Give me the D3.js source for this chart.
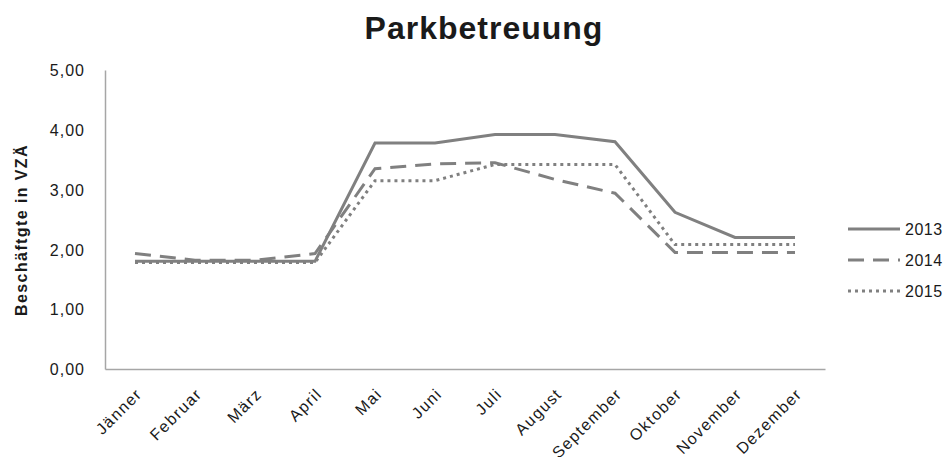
<!DOCTYPE html>
<html>
<head>
<meta charset="utf-8">
<script src="https://cdn.jsdelivr.net/npm/d3@7"></script>
<style>
  body { margin: 0; background: #fff; }
  text { font-family: "Liberation Sans", Arial, sans-serif; fill: #1a1a1a; }
</style>
</head>
<body>
<svg id="chart" width="944" height="457"></svg>
<script>
var months = ['Jänner','Februar','März','April','Mai','Juni','Juli','August','September','Oktober','November','Dezember'];
var v2013 = [1.80, 1.80, 1.80, 1.80, 3.78, 3.78, 3.92, 3.92, 3.80, 2.62, 2.20, 2.20];
var v2014 = [1.93, 1.82, 1.82, 1.93, 3.35, 3.43, 3.45, 3.17, 2.94, 1.95, 1.95, 1.95];
var v2015 = [1.78, 1.78, 1.78, 1.78, 3.15, 3.15, 3.42, 3.42, 3.42, 2.08, 2.08, 2.08];
var yTicks = [0, 1, 2, 3, 4, 5];

var series = [
    {name: '2013', values: v2013, dash: null},
    {name: '2014', values: v2014, dash: '16,9'},
    {name: '2015', values: v2015, dash: '3,4'}
];

var svg = d3.select('#chart');
// plot area edges (don't call these top/left, window.top is taken)
var plotL = 105, plotR = 825, plotT = 70, plotB = 369;

var x = d3.scaleBand().domain(months).range([plotL, plotR]);
var y = d3.scaleLinear().domain([0, 5]).range([plotB, plotT]);

var fontFam = '"Liberation Sans", Arial, sans-serif';

// title
svg.append('text')
    .attr('x', 484).attr('y', 39)
    .attr('text-anchor', 'middle')
    .style('font-size', '32px').style('font-weight', 'bold')
    .style('letter-spacing', '1px')
    .text('Parkbetreuung');

// y axis
var yAxis = svg.append('g')
    .attr('transform', 'translate(' + plotL + ',0)')
    .call(d3.axisLeft(y).tickValues(yTicks).tickSize(0).tickPadding(20)
        .tickFormat(function(d) { return d3.format('.2f')(d).replace('.', ','); }));
yAxis.select('.domain').attr('stroke', '#a6a6a6').attr('stroke-width', 1.5);
yAxis.selectAll('text')
    .style('font-size', '16px').style('font-family', fontFam).style('letter-spacing', '1px')
    .attr('fill', '#1a1a1a').attr('dy', '0.36em');

// x axis
var xAxis = svg.append('g')
    .attr('transform', 'translate(0,' + plotB + ')')
    .call(d3.axisBottom(x).tickSize(0).tickPadding(0));
xAxis.select('.domain').attr('stroke', '#a6a6a6').attr('stroke-width', 1.5);
xAxis.selectAll('text')
    .style('font-size', '16px').style('font-family', fontFam).style('letter-spacing', '1.4px')
    .attr('fill', '#1a1a1a')
    .attr('text-anchor', 'end')
    .attr('dy', '0')
    .attr('transform', 'translate(8,26) rotate(-45)');

// y label
svg.append('text')
    .attr('transform', 'translate(27,230) rotate(-90)')
    .attr('text-anchor', 'middle')
    .style('font-size', '16px').style('font-weight', 'bold')
    .style('letter-spacing', '1.4px')
    .text('Beschäftgte in VZÄ');

var line = d3.line()
    .x(function(d, i) { return x(months[i]) + x.bandwidth() / 2; })
    .y(function(d) { return y(d); });

svg.selectAll('.series').data(series).enter().append('path')
    .attr('class', 'series')
    .attr('d', function(s) { return line(s.values); })
    .attr('fill', 'none')
    .attr('stroke', '#808080')
    .attr('stroke-width', 3)
    .attr('stroke-dasharray', function(s) { return s.dash; });

// legend
var legend = svg.selectAll('.legend').data(series).enter().append('g')
    .attr('class', 'legend')
    .attr('transform', function(s, i) { return 'translate(848,' + (229 + i * 31) + ')'; });
legend.append('line')
    .attr('x1', 0).attr('x2', 52).attr('y1', 0).attr('y2', 0)
    .attr('stroke', '#808080').attr('stroke-width', 3)
    .attr('stroke-dasharray', function(s) { return s.dash; });
legend.append('text')
    .attr('x', 57).attr('y', 6)
    .style('font-size', '16px').style('letter-spacing', '0.5px')
    .text(function(s) { return s.name; });
</script>
</body>
</html>
